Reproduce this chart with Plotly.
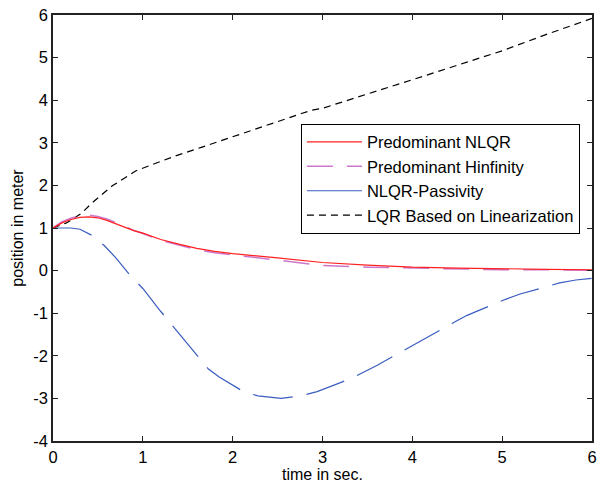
import plotly.graph_objects as go

# Time samples and series values
t_nlqr = [0, 0.1, 0.2, 0.3, 0.4, 0.5, 0.6, 0.7, 0.8, 0.9, 1.0, 1.2, 1.4, 1.6, 1.8, 2.0, 2.5, 3.0, 3.5, 4.0, 4.5, 5.0, 5.5, 6.0]
y_nlqr = [1.0, 1.12, 1.2, 1.25, 1.26, 1.24, 1.18, 1.1, 1.02, 0.94, 0.88, 0.73, 0.62, 0.52, 0.45, 0.40, 0.30, 0.19, 0.13, 0.08, 0.06, 0.04, 0.03, 0.02]

t_hinf = [0, 0.1, 0.2, 0.3, 0.4, 0.5, 0.6, 0.7, 0.8, 0.9, 1.0, 1.2, 1.4, 1.6, 1.8, 2.0, 2.5, 3.0, 3.5, 4.0, 4.5, 5.0, 5.5, 6.0]
y_hinf = [1.0, 1.15, 1.23, 1.29, 1.30, 1.27, 1.21, 1.13, 1.04, 0.94, 0.87, 0.71, 0.60, 0.49, 0.42, 0.37, 0.25, 0.12, 0.08, 0.06, 0.04, 0.02, 0.02, 0.01]

t_pass = [0, 0.2, 0.3, 0.44, 0.57, 0.7, 0.87, 1.0, 1.2, 1.4, 1.6, 1.73, 1.85, 2.0, 2.12, 2.28, 2.54, 2.76, 2.94, 3.2, 3.35, 3.61, 3.91, 4.06, 4.46, 4.61, 5.03, 5.2, 5.64, 5.82, 6.0]
y_pass = [1.0, 1.0, 0.97, 0.82, 0.59, 0.3, -0.14, -0.42, -0.96, -1.47, -1.98, -2.31, -2.5, -2.68, -2.84, -2.94, -3.0, -2.94, -2.84, -2.63, -2.5, -2.22, -1.86, -1.69, -1.22, -1.05, -0.68, -0.55, -0.29, -0.22, -0.18]

t_lqr = [0, 0.15, 0.32, 0.43, 0.66, 0.92, 1.07, 1.36, 1.66, 1.95, 2.24, 2.54, 2.87, 3.0, 3.5, 4.0, 4.5, 5.0, 5.5, 6.0]
y_lqr = [1.0, 1.12, 1.35, 1.58, 1.99, 2.34, 2.46, 2.69, 2.9, 3.11, 3.32, 3.53, 3.76, 3.81, 4.14, 4.48, 4.82, 5.16, 5.55, 5.92]

names = ["Predominant NLQR", "Predominant Hinfinity", "NLQR-Passivity", "LQR Based on Linearization"]
x_ticks = [0, 1, 2, 3, 4, 5, 6]
y_ticks = [-4, -3, -2, -1, 0, 1, 2, 3, 4, 5, 6]

FONT = "Liberation Sans, Arial, sans-serif"

fig = go.Figure()
fig.add_trace(go.Scatter(x=t_pass, y=y_pass, mode="lines", showlegend=False,
                         line=dict(color="#3a5cc0", width=1.2, dash="40px,14px")))
fig.add_trace(go.Scatter(x=t_lqr, y=y_lqr, mode="lines", name=names[3], legendrank=4,
                         line=dict(color="black", width=1.2, dash="7px,5px")))
fig.add_trace(go.Scatter(x=t_hinf, y=y_hinf, mode="lines", name=names[1], legendrank=2,
                         line=dict(color="#cc77cc", width=1.5, dash="26px,14px")))
fig.add_trace(go.Scatter(x=t_nlqr, y=y_nlqr, mode="lines", name=names[0], legendrank=1,
                         line=dict(color="#ff2020", width=1.2)))
fig.add_trace(go.Scatter(x=[None], y=[None], mode="lines", name=names[2], legendrank=3,
                         line=dict(color="#3a5cc0", width=1.2)))

axis_common = dict(showline=True, mirror="ticks", linecolor="#222", linewidth=1.5,
                   ticks="inside", ticklen=5, tickcolor="#222", tickwidth=1,
                   showgrid=False, zeroline=False,
                   tickfont=dict(family=FONT, size=16.5, color="black"))

fig.update_layout(
    width=603, height=485,
    margin=dict(l=53, r=6, t=13, b=42),
    paper_bgcolor="white", plot_bgcolor="white",
    font=dict(family=FONT, size=16, color="black"),
    xaxis=dict(range=[0, 6], tickvals=x_ticks, ticktext=[str(v) for v in x_ticks],
               title=dict(text="time in sec.", standoff=2, font=dict(size=16)), **axis_common),
    yaxis=dict(range=[-4, 6], tickvals=y_ticks, ticktext=[str(v) for v in y_ticks],
               title=dict(text="position in meter", standoff=6, font=dict(size=16)), **axis_common),
    legend=dict(x=0.46, y=0.745, xanchor="left", yanchor="top",
                bgcolor="white", bordercolor="black", borderwidth=1,
                font=dict(family=FONT, size=16.5, color="black"),
                itemwidth=55, tracegroupgap=0),
)

fig.write_html("out.html")
